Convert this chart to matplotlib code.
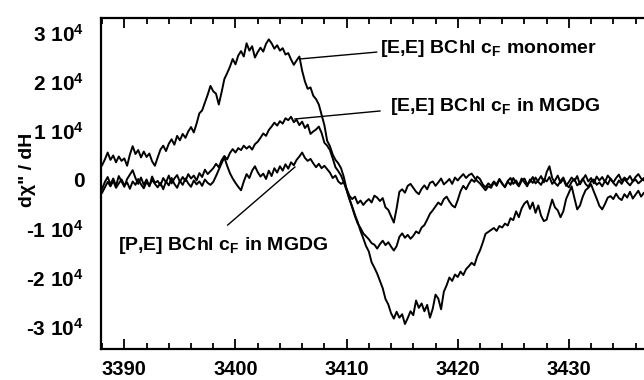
import numpy as np
import matplotlib.pyplot as plt
from matplotlib.ticker import MultipleLocator, FixedLocator

# field sweep (G), sampled every 0.25 G
FIELD_START = 3388.0
FIELD_STEP = 0.25

# dchi''/dH, in units of 1e3
monomer = [
    3.0, 4.2, 5.6, 4.1, 5.0, 3.6, 4.8, 3.9, 4.4, 2.9, 5.2, 6.9, 5.3, 6.1, 4.6, 5.8, 4.7, 5.4, 3.8, 2.9,
    4.6, 6.2, 7.0, 5.9, 7.4, 8.3, 7.2, 9.0, 8.1, 9.4, 8.6, 9.9, 10.8, 9.7, 11.5, 13.6, 14.2, 15.8, 17.4, 19.2,
    18.1, 17.6, 15.4, 17.9, 20.6, 21.8, 23.1, 24.7, 23.6, 25.4, 26.3, 25.2, 27.9, 26.4, 27.3, 25.0, 26.1, 27.0, 26.2, 27.8,
    28.7, 27.9, 26.8, 27.5, 26.4, 26.9, 25.6, 25.9, 24.6, 23.5, 24.4, 25.2, 22.3, 20.1, 18.6, 18.9, 17.2, 16.5, 15.4, 13.3,
    11.2, 8.0, 6.9, 5.2, 4.1, 3.4, 2.4, 0.6, -1.9, -3.8, -5.4, -7.1, -8.6, -10.4, -11.9, -13.5, -14.6, -16.8, -17.9, -19.1,
    -20.6, -22.1, -24.3, -25.4, -27.2, -28.3, -26.9, -28.1, -27.4, -29.4, -28.2, -26.8, -27.6, -24.6, -26.1, -25.2, -26.8, -25.5, -28.1, -26.3,
    -23.4, -24.2, -26.4, -22.8, -21.5, -19.9, -20.6, -19.3, -19.8, -18.7, -19.4, -18.2, -17.6, -16.9, -17.4, -15.6, -14.4, -12.8, -11.0, -10.6,
    -10.2, -9.8, -10.4, -9.4, -9.7, -8.9, -9.3, -7.8, -8.2, -6.4, -7.6, -5.8, -4.8, -4.3, -5.9, -4.6, -6.7, -5.2, -7.3, -8.4,
    -8.1, -6.0, -4.0, -5.6, -6.2, -7.6, -6.4, -3.9, -2.6, -1.3, -3.7, -6.0, -5.2, -3.4, -2.1, -1.6, -0.9, -2.4, -3.8, -5.3,
    -6.0, -4.9, -3.6, -3.3, -3.9, -2.8, -3.7, -4.1, -2.9, -3.6, -2.4, -3.8, -3.0, -2.2, -3.4, -2.6, -3.1,
]

ee_mgdg = [
    -1.8, -0.4, 0.6, -0.9, 0.3, -1.2, 0.8, -0.3, -1.4, 0.2, 1.1, 2.0, 0.4, -0.8, 0.5, -1.0, 0.1, -1.3, 0.7, -0.6,
    -0.2, -1.1, 0.4, -0.5, 0.9, -0.7, 0.3, 1.0, -0.4, 0.6, -0.2, 1.2, 0.3, 0.9, -0.1, 1.4, 0.6, 2.1, 1.2, 1.8,
    2.4, 3.3, 2.6, 4.0, 4.9, 4.2, 5.5, 6.3, 5.6, 6.5, 6.1, 7.0, 6.4, 6.9, 6.2, 7.3, 7.8, 8.6, 9.5, 9.0,
    10.2, 10.9, 11.7, 11.1, 12.0, 11.5, 12.6, 12.2, 12.9, 11.8, 12.3, 11.2, 11.9, 10.6, 11.3, 9.4, 9.9, 10.3, 10.9, 9.6,
    7.6, 7.0, 6.1, 4.4, 2.6, 1.8, 0.9, -0.5, -2.1, -3.9, -5.6, -7.4, -8.9, -9.8, -10.9, -11.5, -12.1, -12.9, -13.2, -14.0,
    -13.1, -12.4, -13.3, -12.7, -13.6, -14.4, -13.5, -11.6, -10.9, -11.8, -11.2, -12.0, -11.4, -10.5, -10.9, -9.7, -9.2, -8.1, -6.9, -6.2,
    -5.4, -4.6, -5.1, -3.9, -3.4, -4.4, -5.2, -5.6, -4.1, -2.3, -1.2, -1.9, -0.8, 0.1, -0.4, 0.7, 0.2, -0.9, -1.5, -0.7,
    -1.2, -0.3, -0.9, 0.2, -0.7, -1.4, -0.2, 0.4, -0.8, -0.1, -1.1, 0.3, -0.5, -1.3, 0.1, -0.6, 0.5, -0.4, -1.0, 0.2,
    -0.3, 0.6, -0.8, -0.1, 0.9, -0.6, 0.2, -1.2, -0.4, 0.5, -0.2, 0.8, -0.9, 0.1, 1.0, -0.3, 0.4, -0.7, 0.7, -0.1,
    0.6, -0.4, 0.9, 0.2, -0.5, 0.4, 1.1, -0.2, 0.5, 0.0, 0.8, -0.3, 0.6, 1.2, 0.3, -0.1, 0.7,
]

pe_mgdg = [
    -2.6, -1.5, -0.4, -1.3, -0.2, -1.6, -0.7, 0.1, -1.1, -0.5, -1.8, -0.3, -1.0, 0.2, -0.9, -1.7, -0.4, -1.2, 0.0, -0.8,
    -1.5, -0.6, -1.9, -0.3, -1.1, 0.4, -0.8, -1.6, -0.2, -1.0, 0.3, -0.7, -1.4, -0.1, -0.9, -0.3, -1.2, 0.1, -0.6, -1.0,
    -0.4, 0.8, 2.1, 3.4, 4.6, 2.9, 1.4, 0.3, -0.6, -1.4, -2.1, -0.3, 1.2, 0.4, 1.9, 2.8, 1.6, 0.7, 1.3, 0.2,
    1.9, 0.8, 2.4, 1.5, 2.8, 1.9, 3.2, 2.3, 3.6, 3.0, 4.1, 4.8, 5.6, 4.5, 3.9, 4.3, 3.4, 2.6, 3.3, 2.4,
    2.9, 2.2, 1.5, 0.4, 0.9, -0.3, -0.8, -0.4, -1.8, -3.2, -3.9, -3.4, -4.8, -4.2, -5.1, -4.4, -3.9, -4.6, -3.2, -3.6,
    -4.3, -3.7, -5.6, -6.1, -7.4, -8.7, -5.8, -2.4, -1.9, -2.6, -1.2, -0.8, -1.6, -2.4, -2.9, -1.8, -1.1, -1.9, -0.6, -0.3,
    -1.2, -0.5, 0.3, -0.9, -0.4, 0.2, -0.8, 0.5, -0.1, 0.6, 1.2, 0.4, 1.0, 1.3, 0.5, -0.2, -0.7, -1.4, -2.1, -1.3,
    -1.6, -0.5, -1.2, 0.1, -0.8, -1.5, -0.3, -1.0, 0.4, -0.6, -1.3, -0.2, 0.3, -0.9, -0.4, 0.6, -0.7, -0.1, 0.8, -0.5,
    1.6, 2.8, 0.4, -0.6, -1.2, -0.2, 0.5, -0.9, -1.5, -0.4, 0.2, -1.1, -0.6, 0.3, -0.8, -1.4, -0.3, 0.1, -1.0, -0.5,
    -1.3, -0.2, -0.9, 0.3, -0.6, -1.2, -0.1, -0.8, 0.2, -0.5, -1.1, -0.3, 0.1, -0.7, -0.2, 0.4, -0.6,
]

x_ticks = [3390, 3400, 3410, 3420, 3430]
x_labels = ["3390", "3400", "3410", "3420", "3430"]
y_ticks = [-30, -20, -10, 0, 10, 20, 30]
y_labels = ["-3 10$^4$", "-2 10$^4$", "-1 10$^4$", "0", "1 10$^4$", "2 10$^4$", "3 10$^4$"]

# labels: text, text position, leader start (on curve), leader end (near text)
labels = [
    ("[E,E] BChl c$_F$ monomer", (3413.0, 25.9), (3405.8, 24.7), (3412.7, 26.1)),
    ("[E,E] BChl c$_F$ in MGDG", (3413.9, 14.1), (3405.35, 12.45), (3413.0, 14.08)),
    ("[P,E] BChl c$_F$ in MGDG", (3389.45, -14.3), (3405.35, 2.65), (3399.3, -9.2)),
]

plt.rcParams['font.family'] = 'Liberation Sans'
plt.rcParams['font.weight'] = 'bold'
plt.rcParams['mathtext.fontset'] = 'custom'
plt.rcParams['mathtext.rm'] = 'Liberation Sans:bold'
plt.rcParams['mathtext.it'] = 'Liberation Sans:bold'
plt.rcParams['mathtext.bf'] = 'Liberation Sans:bold'

n = len(monomer)
field = FIELD_START + FIELD_STEP * np.arange(n)

fig = plt.figure(figsize=(6.44, 3.80), dpi=100)
# axes runs past the right edge of the figure, as in the scan
ax = fig.add_axes([101 / 644, 31 / 380, 579 / 644, 331 / 380])

for series in (monomer, ee_mgdg, pe_mgdg):
    ax.plot(field[:len(series)], series, color='black', lw=1.4)

for text, txy, p0, p1 in labels:
    ax.plot([p0[0], p1[0]], [p0[1], p1[1]], color='black', lw=1.0)
    ax.text(txy[0], txy[1], text, fontsize=14, fontweight='bold', ha='left', va='baseline')

ax.set_xlim(3387.9, 3440)
ax.set_ylim(-34.5, 33.06)

ax.xaxis.set_major_locator(FixedLocator(x_ticks))
ax.set_xticklabels(x_labels)
ax.xaxis.set_minor_locator(MultipleLocator(2))
ax.tick_params(axis='x', which='both', direction='in', top=True, bottom=True, width=1.3)
ax.tick_params(axis='x', which='major', length=7, pad=8, labelsize=14.5)
ax.tick_params(axis='x', which='minor', length=4)

ax.yaxis.set_major_locator(FixedLocator(y_ticks))
ax.set_yticklabels(y_labels)
ax.tick_params(axis='y', which='both', length=0, pad=12, labelsize=15)

for s in ax.spines.values():
    s.set_linewidth(1.6)

fig.text(27 / 644, 1 - 170 / 380, 'd\u03c7" / dH', rotation=90, ha='center', va='center',
         fontsize=14, fontweight='bold')

fig.savefig('out.png', dpi=100)
